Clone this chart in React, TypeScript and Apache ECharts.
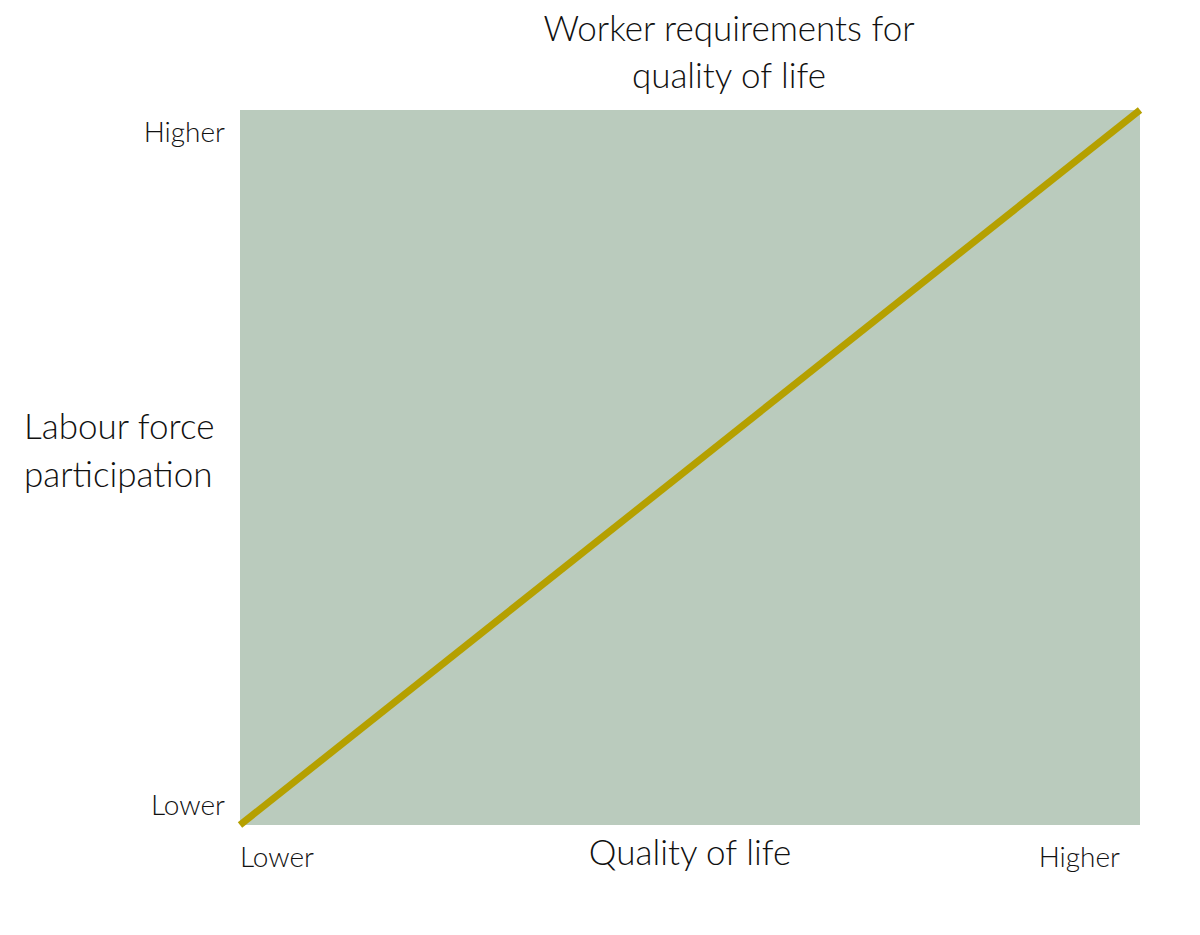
import { useEffect, useRef } from 'react';
import * as echarts from 'echarts';

const xValues = [0, 1];
const yValues = [0, 1];
const tickLabels = ['Lower', 'Higher'];
const titleText = 'Worker requirements for\nquality of life';
const xName = 'Quality of life';
const yName = 'Labour force\nparticipation';

const FONT = 'Lato';
const INK = '#111';

const App: React.FC = () => {
  const divRef = useRef<HTMLDivElement | null>(null);

  useEffect(() => {
    if (!divRef.current) return;
    const chart = echarts.init(divRef.current, null, { renderer: 'svg' });

    const labelFor = (v: number) => tickLabels[xValues.indexOf(v)] ?? '';
    const bigText = { fontFamily: FONT, fontWeight: 300, fontSize: 35, lineHeight: 47, color: INK };

    chart.setOption({
      animation: false,
      title: [
        { text: titleText, left: 729, top: 3, textAlign: 'center', padding: 0, textStyle: bigText },
        // y-axis name sits left of the plot, unrotated
        { text: yName, left: 24, top: 401, padding: 0, textStyle: { ...bigText, lineHeight: 48 } },
      ],
      grid: {
        left: 240,
        top: 110,
        right: 60,
        bottom: 110,
        show: true,
        backgroundColor: '#bacbbd',
        borderWidth: 0,
        containLabel: false,
        outerBoundsMode: 'none',
      },
      xAxis: {
        type: 'value',
        min: 0,
        max: 1,
        interval: 1,
        name: xName,
        nameLocation: 'middle',
        nameGap: 2,
        nameMoveOverlap: false,
        nameTextStyle: bigText,
        axisLine: { show: false },
        axisTick: { show: false },
        splitLine: { show: false },
        axisLabel: {
          formatter: labelFor,
          fontFamily: FONT,
          fontWeight: 300,
          fontSize: 28,
          color: INK,
          margin: 17,
          alignMinLabel: 'left',
          alignMaxLabel: 'right',
          padding: [0, 20, 0, 0],
        },
      },
      yAxis: {
        type: 'value',
        min: 0,
        max: 1,
        interval: 1,
        axisLine: { show: false },
        axisTick: { show: false },
        splitLine: { show: false },
        axisLabel: {
          formatter: labelFor,
          fontFamily: FONT,
          fontWeight: 300,
          fontSize: 28,
          color: INK,
          margin: 15,
          verticalAlignMinLabel: 'bottom',
          verticalAlignMaxLabel: 'top',
          padding: [7, 0, 7, 0],
        },
      },
      series: [
        {
          type: 'line',
          data: xValues.map((x, i) => [x, yValues[i]]),
          showSymbol: false,
          symbol: 'none',
          clip: false,
          lineStyle: { color: '#b5a000', width: 7 },
        },
      ],
    });

    return () => chart.dispose();
  }, []);

  return (
    <div
      ref={divRef}
      style={{ position: 'absolute', left: 0, top: 0, width: 1200, height: 935 }}
    />
  );
};

export default App;
